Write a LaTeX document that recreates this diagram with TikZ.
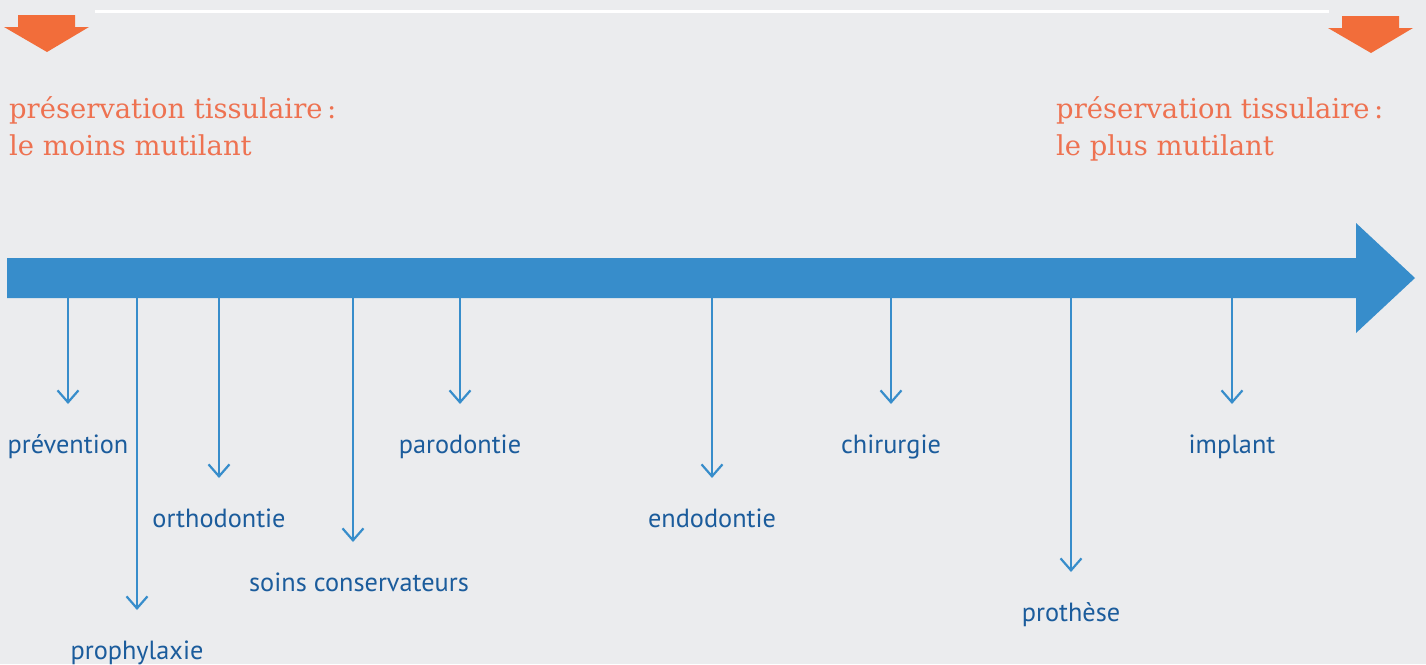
\documentclass[tikz,border=0pt]{standalone}
\usepackage{fontspec}
\setmainfont{DejaVu Serif}
\setsansfont{PT Sans}
\usetikzlibrary{arrows.meta}

\definecolor{bgGray}{HTML}{EBECEE}
\definecolor{barBlue}{HTML}{378DCB}
\definecolor{labelBlue}{HTML}{1B5C9C}
\definecolor{markOrange}{HTML}{F26D3A}
\definecolor{titleOrange}{HTML}{EE7251}

\begin{document}
\begin{tikzpicture}[
    x=1pt, y=-1pt,
    tick/.style={-{Straight Barb[length=12pt,width=21pt]}, line width=2.2pt, draw=barBlue},
    care/.style={font=\sffamily\fontsize{26.3}{30}\selectfont, text=labelBlue, inner sep=0pt, anchor=base},
    heading/.style={font=\fontsize{27.4}{37}\selectfont, text=titleOrange, align=left, inner sep=0pt, anchor=base west},
    marker/.style={fill=markOrange}
  ]
    % background and frame
    \fill[bgGray] (0,0) rectangle (1426,664);
    \useasboundingbox (0,0) rectangle (1426,664);
    \draw[white, line width=3pt] (95,11) -- (1329,11);

    % orange markers
    \fill[marker] (18,15) -- (75,15) -- (75,27) -- (89,27) -- (47,52) -- (4,27) -- (18,27) -- cycle;
    \fill[marker] (1342,16) -- (1399,16) -- (1399,28) -- (1413,28) -- (1371,53) -- (1328,28) -- (1342,28) -- cycle;

    % the base anchor sits on the last line
    \node[heading] (least) at (9,155) {préservation tissulaire\,:\\le moins mutilant};
    \node[heading] (most) at (1056,155) {préservation tissulaire\,:\\le plus mutilant};

    % main axis
    \fill[barBlue] (7,258) -- (1356,258) -- (1356,223) -- (1415,278) -- (1356,333) -- (1356,298) -- (7,298) -- cycle;

    % treatments: line x / label x / tip y
    \foreach \x/\lx/\tip/\name/\txt in {
        68/68/404/prev/prévention,
        137/137/610/proph/prophylaxie,
        219/219/478/ortho/orthodontie,
        353/359/542/soins/soins conservateurs,
        460/460/404/paro/parodontie,
        712/712/478/endo/endodontie,
        891/891/404/chir/chirurgie,
        1071/1071/572/proth/prothèse,
        1232/1232/404/impl/implant}{
      \coordinate (\name-top) at (\x,298);
      \coordinate (\name-tip) at (\x,\tip);
      \node[care] (\name) at (\lx,\tip+49) {\txt};
      \draw[tick] (\name-top) -- (\name-tip);
    }
\end{tikzpicture}
\end{document}
